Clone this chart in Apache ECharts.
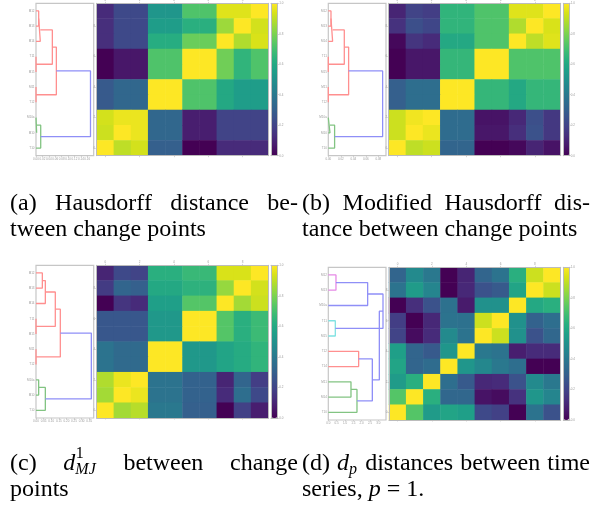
<!DOCTYPE html>
<html>
<head>
<meta charset="utf-8">
<script src="https://cdn.jsdelivr.net/npm/echarts@6/dist/echarts.min.js"></script>
<style>
  html, body { margin: 0; padding: 0; background: #fff; }
  #chart { width: 601px; height: 507px; }
</style>
</head>
<body>
<div id="chart"></div>
<script>
// ---------- data ----------
const colLabels = ['0', '1', '2', '3', '4', '5', '6', '7', '8', '9'];
const rowLabels = ['0', '1', '2', '3', '4', '5', '6', '7', '8', '9']; // bottom to top
const colorbarTicks = [0, 0.2, 0.4, 0.6, 0.8, 1.0];

const leafNamesChangePoints = ['M12', 'M13', 'M14', 'T11', 'M15', 'M11', 'T12', 'M10a', 'M10', 'T10'];
const leafNamesSeries = ['M12', 'M13', 'M10a', 'T11', 'M15', 'T12', 'T14', 'M11', 'M14', 'T10'];

// matrices, rows listed top to bottom (dendrogram leaf order), columns left to right
const hausdorffMatrix = [
  [0.12, 0.22, 0.22, 0.52, 0.52, 0.72, 0.72, 0.95, 0.95, 1.00],
  [0.13, 0.22, 0.22, 0.55, 0.55, 0.63, 0.63, 0.85, 1.00, 0.93],
  [0.13, 0.22, 0.22, 0.62, 0.62, 0.77, 0.77, 1.00, 0.88, 0.94],
  [0.00, 0.06, 0.06, 0.72, 0.72, 1.00, 1.00, 0.78, 0.65, 0.72],
  [0.00, 0.06, 0.06, 0.72, 0.72, 1.00, 1.00, 0.78, 0.65, 0.72],
  [0.28, 0.33, 0.33, 1.00, 1.00, 0.72, 0.72, 0.60, 0.55, 0.55],
  [0.28, 0.33, 0.33, 1.00, 1.00, 0.72, 0.72, 0.60, 0.55, 0.55],
  [0.93, 0.97, 0.97, 0.33, 0.33, 0.08, 0.08, 0.20, 0.20, 0.20],
  [0.92, 1.00, 0.97, 0.33, 0.33, 0.08, 0.08, 0.20, 0.20, 0.20],
  [1.00, 0.90, 0.93, 0.30, 0.30, 0.00, 0.00, 0.12, 0.12, 0.12]
];
const modHausdorffMatrix = [
  [0.10, 0.20, 0.18, 0.65, 0.65, 0.72, 0.72, 0.95, 0.95, 1.00],
  [0.14, 0.24, 0.21, 0.65, 0.65, 0.72, 0.72, 0.88, 1.00, 0.94],
  [0.02, 0.15, 0.12, 0.60, 0.60, 0.72, 0.72, 1.00, 0.90, 0.95],
  [0.00, 0.06, 0.06, 0.66, 0.66, 1.00, 1.00, 0.72, 0.72, 0.72],
  [0.00, 0.06, 0.06, 0.66, 0.66, 1.00, 1.00, 0.72, 0.72, 0.72],
  [0.30, 0.36, 0.36, 1.00, 1.00, 0.66, 0.66, 0.60, 0.66, 0.66],
  [0.30, 0.36, 0.36, 1.00, 1.00, 0.66, 0.66, 0.60, 0.66, 0.66],
  [0.92, 0.98, 1.00, 0.35, 0.35, 0.05, 0.05, 0.11, 0.24, 0.16],
  [0.92, 1.00, 0.97, 0.35, 0.35, 0.06, 0.06, 0.13, 0.25, 0.16],
  [1.00, 0.90, 0.92, 0.32, 0.32, 0.00, 0.00, 0.02, 0.10, 0.05]
];
const mjMatrix = [
  [0.10, 0.22, 0.20, 0.63, 0.63, 0.67, 0.67, 0.94, 0.94, 1.00],
  [0.17, 0.32, 0.30, 0.60, 0.60, 0.64, 0.64, 0.84, 1.00, 0.93],
  [0.00, 0.15, 0.12, 0.56, 0.56, 0.73, 0.73, 1.00, 0.86, 0.92],
  [0.27, 0.27, 0.27, 0.53, 0.53, 1.00, 1.00, 0.73, 0.63, 0.68],
  [0.27, 0.27, 0.27, 0.53, 0.53, 1.00, 1.00, 0.73, 0.63, 0.68],
  [0.38, 0.34, 0.34, 1.00, 1.00, 0.53, 0.53, 0.58, 0.61, 0.65],
  [0.38, 0.34, 0.34, 1.00, 1.00, 0.53, 0.53, 0.58, 0.61, 0.65],
  [0.88, 0.97, 1.00, 0.38, 0.38, 0.31, 0.31, 0.10, 0.32, 0.18],
  [0.86, 1.00, 0.97, 0.38, 0.38, 0.31, 0.31, 0.12, 0.36, 0.22],
  [1.00, 0.86, 0.89, 0.40, 0.40, 0.30, 0.30, 0.00, 0.19, 0.08]
];
const dpMatrix = [
  [0.32, 0.47, 0.40, 0.00, 0.10, 0.32, 0.38, 0.63, 0.92, 1.00],
  [0.38, 0.54, 0.45, 0.00, 0.11, 0.25, 0.28, 0.58, 1.00, 0.92],
  [0.00, 0.13, 0.25, 0.37, 0.07, 0.50, 0.50, 1.00, 0.60, 0.63],
  [0.18, 0.00, 0.11, 0.38, 0.37, 0.92, 1.00, 0.50, 0.31, 0.36],
  [0.20, 0.03, 0.12, 0.47, 0.38, 1.00, 0.92, 0.50, 0.25, 0.33],
  [0.56, 0.32, 0.28, 0.52, 1.00, 0.40, 0.38, 0.08, 0.12, 0.12],
  [0.58, 0.32, 0.35, 1.00, 0.52, 0.46, 0.40, 0.36, 0.00, 0.00],
  [0.54, 0.63, 1.00, 0.36, 0.28, 0.11, 0.12, 0.25, 0.47, 0.40],
  [0.73, 1.00, 0.63, 0.33, 0.33, 0.05, 0.03, 0.14, 0.52, 0.45],
  [1.00, 0.73, 0.54, 0.58, 0.56, 0.22, 0.19, 0.00, 0.38, 0.25]
];

// dendrogram merges: [leaf position A, leaf position B, height under A, height under B, merge height, cluster]
const hausdorffLinks = [
  [0, 1, 0, 0, 0.0084, 'r'],
  [0.5, 2, 0.0084, 0, 0.0134, 'r'],
  [3, 4, 0, 0, 0, 'r'],
  [1.25, 3.5, 0.0134, 0, 0.051, 'r'],
  [5, 6, 0, 0, 0, 'r'],
  [2.375, 5.5, 0.051, 0, 0.0635, 'r'],
  [7, 8, 0, 0, 0.002, 'g'],
  [7.5, 9, 0.002, 0, 0.0147, 'g'],
  [3.9375, 8.25, 0.0635, 0.0147, 0.17, 'b']
];
const modHausdorffLinks = [
  [0, 1, 0, 0, 0.0043, 'r'],
  [0.5, 2, 0.0043, 0, 0.0069, 'r'],
  [3, 4, 0, 0, 0, 'r'],
  [1.25, 3.5, 0.0069, 0, 0.0256, 'r'],
  [5, 6, 0, 0, 0, 'r'],
  [2.375, 5.5, 0.0256, 0, 0.0325, 'r'],
  [7, 8, 0, 0, 0.0027, 'g'],
  [7.5, 9, 0.0027, 0, 0.0101, 'g'],
  [3.9375, 8.25, 0.0325, 0.0101, 0.0869, 'b']
];
const mjLinks = [
  [0, 1, 0, 0, 0.0417, 'r'],
  [0.5, 2, 0.0417, 0, 0.0614, 'r'],
  [3, 4, 0, 0, 0, 'r'],
  [1.25, 3.5, 0.0614, 0, 0.127, 'r'],
  [5, 6, 0, 0, 0, 'r'],
  [2.375, 5.5, 0.127, 0, 0.160, 'r'],
  [7, 8, 0, 0, 0.0175, 'g'],
  [7.5, 9, 0.0175, 0, 0.0614, 'g'],
  [3.9375, 8.25, 0.160, 0.0614, 0.364, 'b']
];
const dpLinks = [
  [0, 1, 0, 0, 0.46, 'm'],
  [0.5, 2, 0.46, 0, 2.36, 'b'],
  [3, 4, 0, 0, 0.42, 'c'],
  [1.25, 3.5, 2.36, 0.42, 3.28, 'b'],
  [5, 6, 0, 0, 1.82, 'r'],
  [7, 8, 0, 0, 1.36, 'g'],
  [7.5, 9, 1.36, 0, 1.72, 'g'],
  [5.5, 8.25, 1.82, 1.72, 2.64, 'b'],
  [2.375, 6.875, 3.28, 2.64, 3.06, 'b']
];

const hausdorffDistTicks = [0, 0.02, 0.04, 0.06, 0.08, 0.10, 0.12, 0.14, 0.16];
const modHausdorffDistTicks = [0, 0.02, 0.04, 0.06, 0.08];
const mjDistTicks = [0, 0.05, 0.10, 0.15, 0.20, 0.25, 0.30, 0.35];
const dpDistTicks = [0, 0.5, 1.0, 1.5, 2.0, 2.5, 3.0];

// captions: each line is a list of words, each word a list of pieces
const captions = [
  { col: 0, lines: [
      [[['(a)']], [['Hausdorff']], [['distance']], [['be-']]],
      [[['tween change points']]]
  ]},
  { col: 1, lines: [
      [[['(b)']], [['Modified']], [['Hausdorff']], [['dis-']]],
      [[['tance between change points']]]
  ]},
  { col: 0, lines: [
      [[['(c)']], [['d', 'it'], ['1', 'sup', 'MJ']], [['between']], [['change']]],
      [[['points']]]
  ]},
  { col: 1, lines: [
      [[['(d)']], [['d', 'it'], ['', 'sup', 'p']], [['distances']], [['between']], [['time']]],
      [[['series, '], ['p', 'it'], [' = 1.']]]
  ]}
];

// ---------- layout & style ----------
const layouts = [
  { dendro: [36, 3.3, 57.7, 152.4], distMax: 0.18, digits: 2, heat: [96.7, 3.3, 171.6, 152.4], bar: [271, 3.3, 6.7, 152.4] },
  { dendro: [328.3, 3.3, 57.7, 152.4], distMax: 0.0923, digits: 2, heat: [388.7, 3.3, 172, 152.4], bar: [563.3, 3.3, 6, 152.4] },
  { dendro: [36, 265.3, 57.7, 152.7], distMax: 0.3796, digits: 2, heat: [96.7, 265.3, 171.6, 152.7], bar: [271, 265.3, 6.7, 152.7] },
  { dendro: [328.3, 267.3, 57.7, 152.7], distMax: 3.46, digits: 1, heat: [389, 267.3, 171.7, 152.7], bar: [563.3, 267.3, 6, 152.7] }
];
const captionRows = [[204, 230], [204, 230], [464, 490], [464, 490]];
const captionCols = [[10, 298], [302, 590]];

const panels = [
  { matrix: hausdorffMatrix, links: hausdorffLinks, ticks: hausdorffDistTicks, leaves: leafNamesChangePoints },
  { matrix: modHausdorffMatrix, links: modHausdorffLinks, ticks: modHausdorffDistTicks, leaves: leafNamesChangePoints },
  { matrix: mjMatrix, links: mjLinks, ticks: mjDistTicks, leaves: leafNamesChangePoints },
  { matrix: dpMatrix, links: dpLinks, ticks: dpDistTicks, leaves: leafNamesSeries }
];

const viridis = ['#440154', '#48186a', '#472d7b', '#424086', '#3b528b', '#33638d', '#2c728e', '#26828e',
  '#21918c', '#1fa088', '#28ae80', '#3fbc73', '#5ec962', '#84d44b', '#addc30', '#d8e219', '#fde725'];
const clusterColors = { r: '#ff8f8f', g: '#82c482', b: '#8f8ff7', c: '#80e2e2', m: '#e68ae6' };
const frameGray = '#c6c6c6';
const tickGray = '#bcbcbc';
const labelGray = '#9c9c9c';

// ---------- option assembly ----------
const grid = [], xAxis = [], yAxis = [], series = [], visualMap = [];

function box(r, extra) {
  return Object.assign({ left: r[0], top: r[1], width: r[2], height: r[3], containLabel: false, outerBoundsMode: 'none' }, extra || {});
}
const hiddenLine = { show: false, onZero: false };
const frameLine = { show: true, onZero: false, lineStyle: { color: tickGray, width: 1 } };
const tinyTick = { show: true, length: 1.5, lineStyle: { color: tickGray, width: 0.6 } };
const tinyLabel = { fontSize: 3, color: labelGray, margin: 1.5 };

panels.forEach((p, k) => {
  const L = layouts[k];

  // dendrogram
  const gD = grid.length;
  grid.push(box(L.dendro, { show: true, borderColor: frameGray, borderWidth: 1.2, backgroundColor: '#fff' }));
  const xD = xAxis.length;
  xAxis.push({
    gridIndex: gD, type: 'value', min: 0, max: L.distMax, position: 'bottom',
    axisLine: hiddenLine, splitLine: { show: false },
    axisTick: Object.assign({}, tinyTick, { customValues: p.ticks }),
    axisLabel: Object.assign({}, tinyLabel, { customValues: p.ticks, formatter: v => (+v).toFixed(L.digits) })
  });
  const yD = yAxis.length;
  yAxis.push({
    gridIndex: gD, type: 'value', min: -0.5, max: 9.5, inverse: true, position: 'left',
    axisLine: hiddenLine, axisTick: { show: false }, splitLine: { show: false },
    axisLabel: Object.assign({}, tinyLabel, { customValues: [0, 1, 2, 3, 4, 5, 6, 7, 8, 9], formatter: v => p.leaves[Math.round(v)] })
  });
  p.links.forEach(l => {
    series.push({
      type: 'line', xAxisIndex: xD, yAxisIndex: yD, symbol: 'none', silent: true, animation: false,
      data: [[l[2], l[0]], [l[4], l[0]], [l[4], l[1]], [l[3], l[1]]],
      lineStyle: { color: clusterColors[l[5]], width: 1.3 }
    });
  });

  // heatmap
  const gH = grid.length;
  grid.push(box(L.heat));
  const xTop = xAxis.length;
  xAxis.push({
    gridIndex: gH, type: 'category', data: colLabels, position: 'top', z: 5,
    axisLine: frameLine, splitLine: { show: false },
    axisTick: Object.assign({}, tinyTick, { alignWithLabel: true, interval: 1 }),
    axisLabel: Object.assign({}, tinyLabel, { interval: 1 })
  });
  xAxis.push({
    gridIndex: gH, type: 'category', data: colLabels, position: 'bottom', z: 5,
    axisLine: frameLine, splitLine: { show: false },
    axisTick: Object.assign({}, tinyTick, { alignWithLabel: true, interval: 1 }),
    axisLabel: { show: false }
  });
  const yLeft = yAxis.length;
  yAxis.push({
    gridIndex: gH, type: 'category', data: rowLabels, position: 'left', z: 5,
    axisLine: frameLine, splitLine: { show: false },
    axisTick: Object.assign({}, tinyTick, { alignWithLabel: true, interval: 1 }),
    axisLabel: Object.assign({}, tinyLabel, { interval: 1 })
  });
  yAxis.push({
    gridIndex: gH, type: 'category', data: rowLabels, position: 'right', z: 5,
    axisLine: frameLine, axisTick: { show: false }, axisLabel: { show: false }, splitLine: { show: false }
  });
  const cells = [];
  p.matrix.forEach((row, r) => row.forEach((v, c) => cells.push([c, rowLabels.length - 1 - r, v])));
  const heatIndex = series.length;
  series.push({
    type: 'heatmap', xAxisIndex: xTop, yAxisIndex: yLeft, data: cells,
    silent: true, progressive: 0, animation: false, emphasis: { disabled: true },
    itemStyle: { borderWidth: 0 }
  });

  // colour bar
  visualMap.push({
    type: 'continuous', seriesIndex: heatIndex, min: 0, max: 1,
    left: L.bar[0], top: L.bar[1], itemWidth: L.bar[2], itemHeight: L.bar[3],
    padding: 0, calculable: false, hoverLink: false, text: null, showLabel: false,
    inRange: { color: viridis }
  });
  const gC = grid.length;
  grid.push(box(L.bar));
  ['top', 'bottom'].forEach(pos => xAxis.push({
    gridIndex: gC, type: 'value', min: 0, max: 1, position: pos, z: 10,
    axisLine: frameLine, axisTick: { show: false }, axisLabel: { show: false }, splitLine: { show: false }
  }));
  yAxis.push({
    gridIndex: gC, type: 'value', min: 0, max: 1, position: 'right', z: 10,
    axisLine: frameLine, splitLine: { show: false },
    axisTick: Object.assign({}, tinyTick, { customValues: colorbarTicks }),
    axisLabel: Object.assign({}, tinyLabel, { customValues: colorbarTicks, formatter: v => (+v).toFixed(1) })
  });
  yAxis.push({
    gridIndex: gC, type: 'value', min: 0, max: 1, position: 'left', z: 10,
    axisLine: frameLine, axisTick: { show: false }, axisLabel: { show: false }, splitLine: { show: false }
  });
});

// ---------- captions ----------
const SERIF = '"Liberation Serif", "Times New Roman", serif';
const MAIN = 24, SCRIPT = 16;
const measurer = document.createElement('canvas').getContext('2d');
function fontFor(kind) {
  if (kind === 'it') return 'italic ' + MAIN + 'px ' + SERIF;
  if (kind === 'sit') return 'italic ' + SCRIPT + 'px ' + SERIF;
  if (kind === 'srm') return SCRIPT + 'px ' + SERIF;
  return MAIN + 'px ' + SERIF;
}
function widthOf(text, kind) { measurer.font = fontFor(kind); return measurer.measureText(text).width; }
function pieceWidth(pc) {
  if (pc[1] === 'sup') return Math.max(widthOf(pc[0], 'srm'), widthOf(pc[2], 'sit')) + 1;
  return widthOf(pc[0], pc[1] || 'rm');
}
function wordWidth(word) { return word.reduce((s, pc) => s + pieceWidth(pc), 0); }
const graphics = [];
function textEl(text, kind, x, y) {
  graphics.push({
    type: 'text', x: x, y: y, silent: true,
    style: { text: text, font: fontFor(kind), fill: '#000', align: 'left', verticalAlign: 'middle',
             textAlign: 'left', textVerticalAlign: 'middle' }
  });
}
function drawWord(word, x, y) {
  word.forEach(pc => {
    if (pc[1] === 'sup') {
      if (pc[0]) textEl(pc[0], 'srm', x + 0.5, y - 10);
      if (pc[2]) textEl(pc[2], 'sit', x, y + 6);
    } else {
      textEl(pc[0], pc[1] || 'rm', x, y);
    }
    x += pieceWidth(pc);
  });
}
captions.forEach((cap, k) => {
  const [x0, x1] = captionCols[cap.col];
  cap.lines.forEach((line, li) => {
    const y = captionRows[k][li];
    const widths = line.map(wordWidth);
    const total = widths.reduce((a, b) => a + b, 0);
    const gap = line.length > 1 ? (x1 - x0 - total) / (line.length - 1) : 0;
    let x = x0;
    line.forEach((word, i) => { drawWord(word, x, y); x += widths[i] + gap; });
  });
});

const chart = echarts.init(document.getElementById('chart'), null, { renderer: 'canvas' });
chart.setOption({
  backgroundColor: '#fff',
  animation: false,
  grid: grid, xAxis: xAxis, yAxis: yAxis, series: series, visualMap: visualMap,
  graphic: { elements: graphics }
});
</script>
</body>
</html>
